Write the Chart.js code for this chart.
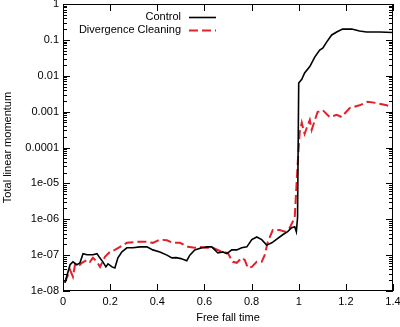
<!DOCTYPE html>
<html lang="en">
<head>
<meta charset="UTF-8">
<title>Total linear momentum</title>
<script src="https://cdn.jsdelivr.net/npm/chart.js"></script>
<style>
    html, body { margin: 0; padding: 0; background: #fff; }
    #wrap { width: 400px; height: 327px; }
</style>
</head>
<body>
<div id="wrap"><canvas id="myChart"></canvas></div>
<script>
    // values
    const controlX = [0.008, 0.03, 0.042, 0.059, 0.072, 0.085, 0.102, 0.127, 0.144, 0.153, 0.169, 0.182, 0.191, 0.208, 0.22, 0.233,
        0.25, 0.271, 0.297, 0.326, 0.356, 0.381, 0.411, 0.441, 0.462, 0.48, 0.5, 0.525, 0.538, 0.559, 0.589, 0.61, 0.631, 0.644,
        0.657, 0.678, 0.695, 0.716, 0.737, 0.758, 0.78, 0.801, 0.822, 0.843, 0.864, 0.886, 0.907, 0.932, 0.953, 0.97, 0.983,
        0.99, 0.995, 1.0, 1.013, 1.025, 1.047, 1.068, 1.089, 1.102, 1.119, 1.14, 1.161, 1.186, 1.225, 1.258, 1.288, 1.343, 1.4];
    const controlY = [1.7e-8, 5.4e-8, 6.5e-8, 5.4e-8, 6.1e-8, 1.1e-7, 1.02e-7, 1.02e-7, 1.1e-7, 9e-8, 6.5e-8, 4.7e-8, 5.7e-8, 4.7e-8, 4.4e-8, 8.4e-8,
        1.23e-7, 1.6e-7, 1.6e-7, 1.7e-7, 1.7e-7, 1.4e-7, 1.23e-7, 1.0e-7, 8.4e-8, 8.5e-8, 8e-8, 7e-8, 1.0e-7, 1.4e-7, 1.6e-7, 1.7e-7, 1.7e-7, 1.4e-7,
        1.15e-7, 1.23e-7, 1.1e-7, 1.4e-7, 1.4e-7, 1.6e-7, 1.7e-7, 2.7e-7, 3.2e-7, 2.7e-7, 1.9e-7, 2.2e-7, 2.8e-7, 3.7e-7, 4.5e-7, 5.8e-7, 6.2e-7,
        4.5e-7, 1.1e-6, 6.3e-3, 8e-3, 0.012, 0.018, 0.033, 0.052, 0.059, 0.088, 0.137, 0.166, 0.2, 0.2, 0.177, 0.166, 0.166, 0.16];

    const cleaningX = [0.008, 0.03, 0.042, 0.051, 0.064, 0.08, 0.102, 0.114, 0.127, 0.144, 0.157, 0.178, 0.199, 0.22, 0.242, 0.271,
        0.314, 0.356, 0.381, 0.411, 0.441, 0.466, 0.496, 0.53, 0.559, 0.58, 0.602, 0.636, 0.674, 0.699, 0.72, 0.737, 0.758, 0.771,
        0.784, 0.801, 0.822, 0.843, 0.856, 0.869, 0.89, 0.919, 0.941, 0.962, 0.983, 0.995, 1.004, 1.013, 1.025, 1.034, 1.047, 1.055,
        1.08, 1.102, 1.131, 1.161, 1.182, 1.216, 1.258, 1.292, 1.33, 1.373, 1.4];
    const cleaningY = [1.7e-8, 3.9e-8, 2.5e-8, 5.4e-8, 4.7e-8, 6.1e-8, 7.4e-8, 6.5e-8, 8.4e-8, 6.5e-8, 4.7e-8, 9e-8, 1.23e-7, 1.4e-7, 1.7e-7, 2.2e-7,
        2.35e-7, 2.35e-7, 2.2e-7, 2.7e-7, 2.6e-7, 2.2e-7, 2.2e-7, 1.7e-7, 1.6e-7, 1.7e-7, 1.6e-7, 1.6e-7, 1.23e-7, 1.15e-7, 6.5e-8, 6.1e-8, 8.4e-8, 7.4e-8,
        4.4e-8, 4.7e-8, 6.5e-8, 6.5e-8, 1.02e-7, 2.35e-7, 5e-7, 5e-7, 4.5e-7, 5.8e-7, 1.1e-6, 3e-5, 2.6e-4, 4.9e-4, 2.4e-4, 3.5e-4, 5.9e-4, 3.1e-4,
        9.8e-4, 1.1e-3, 7.1e-4, 8.1e-4, 7.1e-4, 1.26e-3, 1.5e-3, 1.87e-3, 1.74e-3, 1.5e-3, 1.35e-3];

    const xTicks = [0, 0.2, 0.4, 0.6, 0.8, 1, 1.2, 1.4];
    const yTicks = [1e-8, 1e-7, 1e-6, 1e-5, 1e-4, 1e-3, 1e-2, 1e-1, 1];
    const yTickLabels = ['1e-08', '1e-07', '1e-06', '1e-05', '0.0001', '0.001', '0.01', '0.1', '1'];

    const FONT = "'Liberation Sans', Arial, sans-serif";

    const toPoints = (xs, ys) => xs.map((x, i) => ({ x: x, y: ys[i] }));

    function yLabel(v) {
        const i = yTicks.findIndex(t => Math.abs(Math.log10(t) - Math.log10(v)) < 1e-6);
        return i >= 0 ? yTickLabels[i] : '';
    }

    // the edge labels should not push the plot box inwards
    function noEdgePadding(s) {
        s.paddingTop = 0; s.paddingBottom = 0; s.paddingLeft = 0; s.paddingRight = 0;
    }

    // gnuplot style frame, inward ticks and legend
    const gnuplotFrame = {
        id: 'gnuplotFrame',
        afterDatasetsDraw(chart) {
            const { ctx, chartArea: a, scales } = chart;
            ctx.save();
            ctx.strokeStyle = '#000';
            ctx.lineWidth = 1;
            ctx.setLineDash([]);
            ctx.strokeRect(a.left + 0.5, a.top + 0.5, a.right - a.left - 1, a.bottom - a.top - 1);
            ctx.beginPath();
            scales.y.ticks.forEach(t => {
                const py = Math.round(scales.y.getPixelForValue(t.value)) + 0.5;
                const len = yLabel(t.value) ? 7 : 4;
                ctx.moveTo(a.left, py); ctx.lineTo(a.left + len, py);
                ctx.moveTo(a.right, py); ctx.lineTo(a.right - len, py);
            });
            scales.x.ticks.forEach(t => {
                const px = Math.round(scales.x.getPixelForValue(t.value)) + 0.5;
                ctx.moveTo(px, a.bottom); ctx.lineTo(px, a.bottom - 7);
                ctx.moveTo(px, a.top); ctx.lineTo(px, a.top + 7);
            });
            ctx.stroke();

            // legend
            ctx.font = '11px ' + FONT;
            ctx.textAlign = 'right';
            ctx.textBaseline = 'middle';
            chart.data.datasets.forEach((ds, i) => {
                const y = a.top + 13 + i * 13;
                ctx.fillStyle = '#000';
                ctx.fillText(ds.label, a.left + 118, y);
                ctx.strokeStyle = ds.borderColor;
                ctx.lineWidth = ds.borderWidth;
                ctx.setLineDash(ds.borderDash || []);
                ctx.beginPath();
                ctx.moveTo(a.left + 126, y + 0.5);
                ctx.lineTo(a.left + 153, y + 0.5);
                ctx.stroke();
            });
            ctx.restore();
        }
    };

    const ctx = document.getElementById('myChart').getContext('2d');
    const myChart = new Chart(ctx, {
        type: 'scatter',
        data: {
            datasets: [
                {
                    label: 'Control',
                    data: toPoints(controlX, controlY),
                    showLine: true,
                    borderColor: '#000000',
                    borderWidth: 1.6,
                    pointRadius: 0,
                    tension: 0
                },
                {
                    label: 'Divergence Cleaning',
                    data: toPoints(cleaningX, cleaningY),
                    showLine: true,
                    borderColor: '#e2212b',
                    borderWidth: 2,
                    borderDash: [9, 4],
                    pointRadius: 0,
                    tension: 0
                }
            ]
        },
        options: {
            responsive: true,
            maintainAspectRatio: false,
            animation: false,
            layout: { autoPadding: false, padding: { left: 0, right: 7, top: 4, bottom: 0 } },
            plugins: { legend: { display: false }, tooltip: { enabled: false } },
            scales: {
                x: {
                    type: 'linear',
                    min: 0,
                    max: 1.4,
                    afterBuildTicks: s => { s.ticks = xTicks.map(v => ({ value: v })); },
                    afterFit: s => { s.height = 36; noEdgePadding(s); },
                    grid: { display: false, drawTicks: false },
                    border: { display: false },
                    ticks: { color: '#000', font: { family: FONT, size: 11 }, padding: 4, maxRotation: 0,
                        callback: v => String(v) },
                    title: { display: true, text: 'Free fall time', color: '#000',
                        font: { family: FONT, size: 11 }, padding: { top: 0, bottom: 2 } }
                },
                y: {
                    type: 'logarithmic',
                    min: 1e-8,
                    max: 1,
                    afterBuildTicks: s => {
                        const list = [];
                        yTicks.forEach((d, i) => {
                            list.push({ value: d });
                            if (i < yTicks.length - 1) {
                                for (let m = 2; m <= 9; m++) list.push({ value: m * d });
                            }
                        });
                        s.ticks = list;
                    },
                    afterFit: s => { s.width = 63; noEdgePadding(s); },
                    grid: { display: false, drawTicks: false },
                    border: { display: false },
                    ticks: { color: '#000', font: { family: FONT, size: 11 }, padding: 4, autoSkip: false,
                        callback: v => yLabel(v) },
                    title: { display: true, text: 'Total linear momentum', color: '#000',
                        font: { family: FONT, size: 11 }, padding: { top: 1, bottom: 0 } }
                }
            }
        },
        plugins: [gnuplotFrame]
    });
</script>
</body>
</html>
